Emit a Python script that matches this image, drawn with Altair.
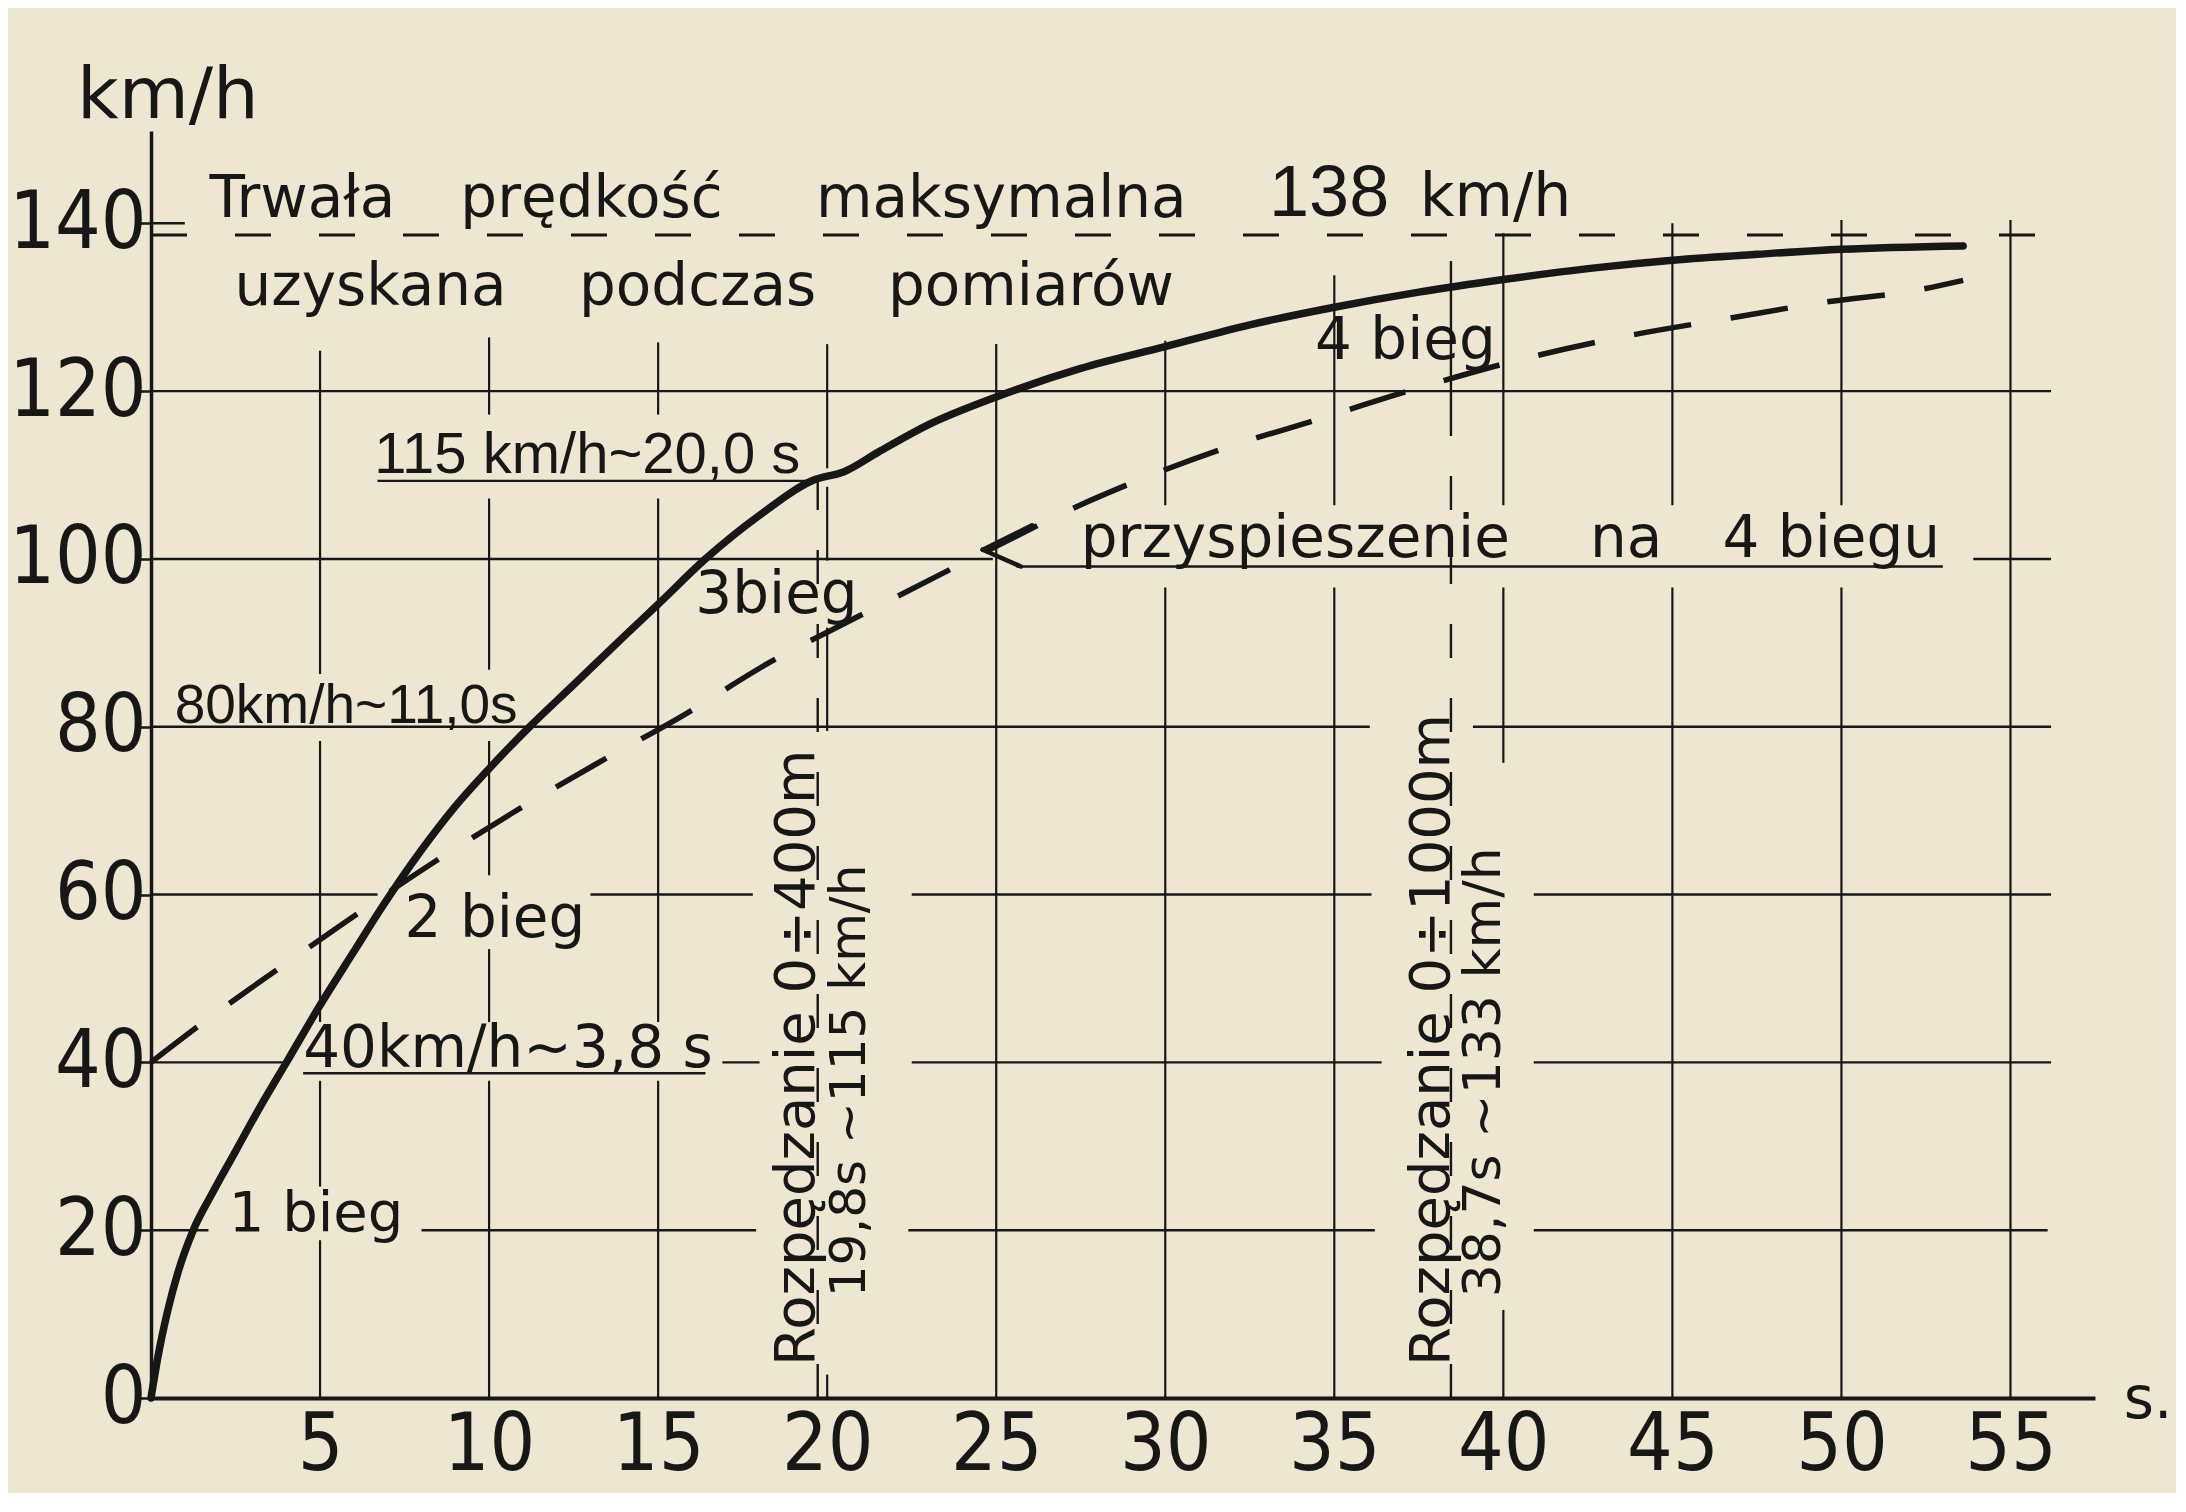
import altair as alt
import pandas as pd

INK = "#171717"
PAPER = "#ede7d2"
TEXT_FONT = "DejaVu Sans"
ARIAL = "Liberation Sans"
NARROW = "Liberation Sans Narrow, DejaVu Sans Condensed, Liberation Sans"

X_MAX = 57.5
Y_MAX = 151.0
W = 1944
H = 1267

x_ticks = [5, 10, 15, 20, 25, 30, 35, 40, 45, 50, 55]
y_ticks = [0, 20, 40, 60, 80, 100, 120, 140]

# measured acceleration curve (solid)
t_solid = [0, 0.2, 0.5, 0.8, 1.25, 1.8, 2.5, 3.2, 4.05, 5.0, 6.0, 6.85, 8.0, 9.0, 10.0,
           11.2, 12.5, 14.0, 15.0, 16.4, 18.0, 19.6, 20.5, 21.5, 23.0, 25.0, 27.5,
           30.0, 32.5, 35.0, 37.5, 40.0, 42.5, 45.0, 47.5, 50.0, 53.6]
v_solid = [0, 4.8, 10.5, 15.0, 20.0, 24.3, 29.4, 34.5, 40.3, 46.8, 53.2, 58.6, 65.3, 70.5, 75.0,
           80.0, 85.0, 90.8, 94.6, 100.0, 105.2, 109.4, 110.4, 112.7, 116.0, 119.3, 122.7,
           125.3, 127.9, 130.0, 131.8, 133.3, 134.6, 135.6, 136.3, 136.9, 137.3]

# acceleration in 4th gear (dashed)
t_dash = [0, 1.93, 3.22, 5.38, 8.31, 10.64, 13.14, 15.72, 18.31, 20.9, 25.0, 27.36,
          29.04, 31.83, 34.41, 37.43, 40.45, 43.69, 46.71, 49.51, 52.19, 53.6]
v_dash = [40, 45.9, 49.6, 55.7, 63.7, 69.6, 75.5, 81.3, 87.7, 93.1, 101.5, 106.2,
          109.1, 113.3, 116.5, 120.3, 123.7, 126.6, 128.7, 130.6, 132.0, 133.2]

# maximum speed line
vmax_y = [138.6]
vmax_x1 = [0]
vmax_x2 = [56.0]

# horizontal grid pieces and underlines
h_y = [20, 20, 20, 20, 40, 40, 40, 40, 38.7, 60, 60, 60, 60, 80, 80,
       100, 100, 99.1, 109.3, 120, 140]
h_x1 = [0, 8.0, 22.4, 40.9, 0, 16.9, 22.5, 40.9, 4.5, 0, 13.0, 22.5, 40.9, 0, 39.1,
        0, 53.9, 25.6, 6.7, 0, 0]
h_x2 = [1.7, 17.9, 36.2, 56.1, 4.1, 18.0, 36.4, 56.2, 16.4, 6.7, 17.8, 36.1, 56.2, 36.05, 56.2,
        24.9, 56.2, 53.0, 19.6, 56.2, 1.0]

# vertical grid pieces
v_x = [5, 5, 5, 5,
       10, 10, 10, 10, 10,
       15, 15, 15,
       20, 20, 20, 20,
       25,
       30, 30,
       35, 35,
       40, 40, 40,
       45, 45,
       50, 50,
       55]
v_y1 = [0, 25.2, 44.8, 86.3,
        0, 44.8, 62.3, 86.8, 117.2,
        0, 44.8, 117.2,
        0, 79.5, 99.8, 110.8,
        0,
        0, 106.4,
        0, 106.4,
        0, 75.7, 106.4,
        0, 106.4,
        0, 106.4,
        0]
v_y2 = [18.8, 37.8, 78.3, 124.8,
        37.8, 53.5, 78.3, 107.2, 126.4,
        37.8, 107.2, 125.8,
        2.8, 91.8, 108.6, 125.6,
        125.6,
        96.6, 126.0,
        96.6, 133.8,
        10.5, 96.6, 138.8,
        96.6, 140.0,
        96.6, 140.4,
        140.4]

# 400 m / 1000 m markers
mark_x = [19.72, 38.45]
mark_top = [110.0, 115.0]
mark_solid_x = [38.45]
mark_solid_y1 = [115.0]
mark_solid_y2 = [135.5]

# arrow of "przyspieszenie" label
arr_x = [26.06, 24.6]
arr_y = [104.0, 101.1]
arr_x2 = [24.6, 25.73]
arr_y2 = [101.1, 99.1]

# labels
lab_text = ["Trwała", "prędkość", "maksymalna", "km/h", "uzyskana", "podczas", "pomiarów",
            "4 bieg", "przyspieszenie", "na", "4", "biegu", "3bieg", "2 bieg",
            "40km/h~3,8 s", "1 bieg", "km/h", "s."]
lab_x = [1.73, 9.15, 19.67, 37.53, 2.47, 12.66, 21.8, 34.43, 27.5, 42.56, 46.48, 48.12,
         16.1, 7.5, 4.5, 2.3, -2.19, 58.35]
lab_y = [140.7, 140.7, 140.7, 140.9, 130.3, 130.3, 130.3, 123.8, 100.2, 100.2, 100.2, 100.2,
         93.5, 55.0, 39.4, 19.9, 152.5, -2.4]
lab_size = [58, 58, 58, 60, 58, 58, 58, 58, 58, 58, 58, 58, 58, 58, 58, 56, 72, 58]

alab_text = ["115 km/h~20,0 s", "80km/h~11,0s", "138"]
alab_x = [6.6, 0.7, 33.07]
alab_y = [110.3, 80.5, 140.9]
alab_size = [58, 55, 72]

rl_text = ["Rozpędzanie 0÷400m", "Rozpędzanie 0÷1000m"]
rl_x = [19.62, 38.38]
rl_y = [3.8, 3.8]
rr_text = ["19,8s ~115 km/h", "38,7s ~133 km/h"]
rr_x = [19.95, 38.7]
rr_y = [12.0, 12.0]
rr_size = [50, 52]

xs = alt.Scale(domain=[0, X_MAX], nice=False, zero=False)
ys = alt.Scale(domain=[0, Y_MAX], nice=False, zero=False)

x_axis = alt.Axis(values=x_ticks, title=None, ticks=False, tickSize=0, grid=False,
                  labelFont=NARROW, labelFontSize=80, labelColor=INK, labelPadding=8,
                  labelFlush=False, labelOverlap=False, domainColor=INK, domainWidth=4)
y_axis = alt.Axis(values=y_ticks, title=None, tickSize=11, tickWidth=2.5, tickColor=INK,
                  grid=False, labelFont=NARROW, labelFontSize=80, labelColor=INK,
                  labelPadding=-6, labelFlush=False, labelOverlap=False,
                  domainColor=INK, domainWidth=3.5)


def X(field):
    return alt.X(field, type="quantitative", scale=xs, axis=x_axis)


def Y(field):
    return alt.Y(field, type="quantitative", scale=ys, axis=y_axis)


h_df = pd.DataFrame({"y": h_y, "x1": h_x1, "x2": h_x2})
v_df = pd.DataFrame({"x": v_x, "y1": v_y1, "y2": v_y2})

grid_h = alt.Chart(h_df).mark_rule(color=INK, strokeWidth=2.4).encode(
    x=X("x1"), x2="x2:Q", y=Y("y"),
)
grid_v = alt.Chart(v_df).mark_rule(color=INK, strokeWidth=2.2).encode(
    x=X("x"), y=Y("y1"), y2="y2:Q",
)

vmax = alt.Chart(pd.DataFrame({"y": vmax_y, "x1": vmax_x1, "x2": vmax_x2})).mark_rule(
    color=INK, strokeWidth=3, strokeDash=[36, 48]).encode(
    x=X("x1"), x2="x2:Q", y=Y("y"),
)

markers = alt.Chart(pd.DataFrame({"x": mark_x, "top": mark_top, "bot": [0, 0]})).mark_rule(
    color=INK, strokeWidth=2.4, strokeDash=[34, 40]).encode(
    x=X("x"), y=Y("bot"), y2="top:Q",
)
marker_solid = alt.Chart(pd.DataFrame({"x": mark_solid_x, "y1": mark_solid_y1,
                                       "y2": mark_solid_y2})).mark_rule(
    color=INK, strokeWidth=2.4).encode(
    x=X("x"), y=Y("y1"), y2="y2:Q",
)

solid = alt.Chart(pd.DataFrame({"t": t_solid, "v": v_solid})).mark_line(
    color=INK, strokeWidth=7.5, interpolate="monotone", strokeCap="round").encode(
    x=X("t"), y=Y("v"), order="t:Q",
)
dashed = alt.Chart(pd.DataFrame({"t": t_dash, "v": v_dash})).mark_line(
    color=INK, strokeWidth=5.5, interpolate="monotone", strokeDash=[58, 40]).encode(
    x=X("t"), y=Y("v"), order="t:Q",
)

arrow = alt.Chart(pd.DataFrame({"x": arr_x, "y": arr_y, "x2": arr_x2, "y2": arr_y2})).mark_rule(
    color=INK, strokeWidth=4.5, strokeCap="round").encode(
    x=X("x"), x2="x2:Q", y=Y("y"), y2="y2:Q",
)

labels = alt.Chart(pd.DataFrame({"x": lab_x, "y": lab_y, "t": lab_text, "s": lab_size})).mark_text(
    font=TEXT_FONT, align="left", baseline="alphabetic", color=INK).encode(
    x=X("x"), y=Y("y"), text="t:N",
    size=alt.Size("s:Q", scale=None, legend=None),
)
alabels = alt.Chart(pd.DataFrame({"x": alab_x, "y": alab_y, "t": alab_text, "s": alab_size})).mark_text(
    font=ARIAL, align="left", baseline="alphabetic", color=INK).encode(
    x=X("x"), y=Y("y"), text="t:N",
    size=alt.Size("s:Q", scale=None, legend=None),
)
rot_left = alt.Chart(pd.DataFrame({"x": rl_x, "y": rl_y, "t": rl_text})).mark_text(
    font=TEXT_FONT, align="left", baseline="alphabetic", angle=270, fontSize=56, color=INK).encode(
    x=X("x"), y=Y("y"), text="t:N",
)
rot_right = alt.Chart(pd.DataFrame({"x": rr_x, "y": rr_y, "t": rr_text, "s": rr_size})).mark_text(
    font=TEXT_FONT, align="left", baseline="top", angle=270, color=INK).encode(
    x=X("x"), y=Y("y"), text="t:N",
    size=alt.Size("s:Q", scale=None, legend=None),
)

chart = alt.layer(
    grid_h, grid_v, vmax, markers, marker_solid, dashed, solid, arrow,
    labels, alabels, rot_left, rot_right,
).properties(
    width=W, height=H,
    padding={"left": 143, "top": 123, "right": 81, "bottom": 95},
    autosize=alt.AutoSizeParams(type="none"),
    background=PAPER,
).configure_view(stroke=None)

chart.save("out.html", embed_options={"renderer": "svg", "actions": False})
